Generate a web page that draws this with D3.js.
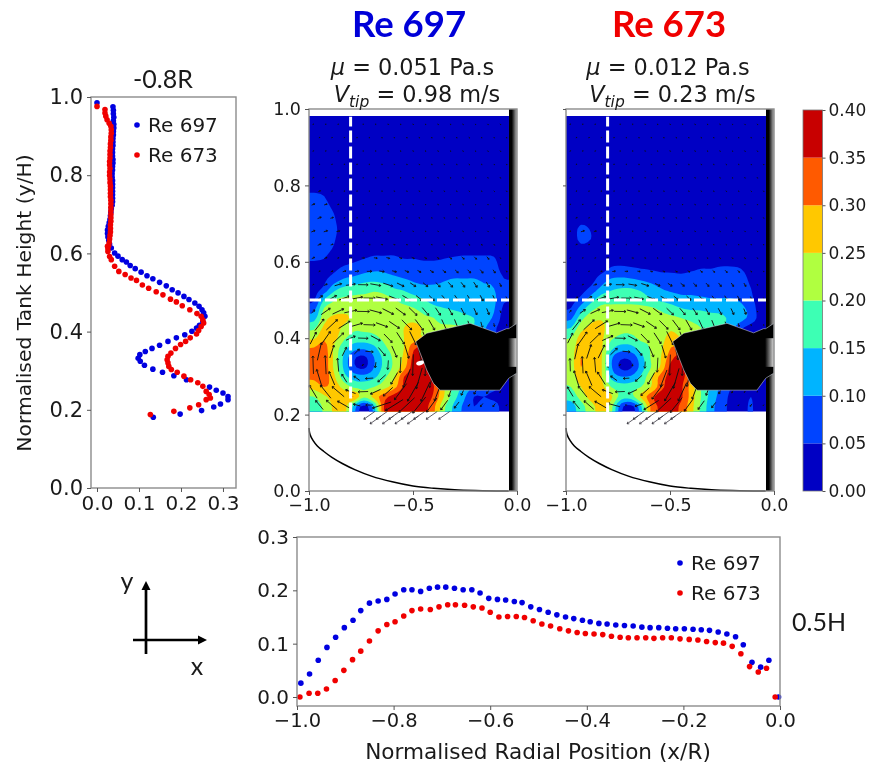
<!DOCTYPE html>
<html><head><meta charset="utf-8">
<script src="https://cdnjs.cloudflare.com/ajax/libs/d3/7.8.5/d3.min.js"></script>
<style>
html,body{margin:0;padding:0;background:#fff}
svg{display:block;filter:blur(0.45px)}
text{fill:#1a1a1a}
</style></head><body>
<svg id="c" width="869" height="766"></svg>
<script>
// ---------- data ----------
const legendLabels = ["Re 697","Re 673"];
const seriesColors = ["#0000e0","#f00000"];
const tankProfileRe697X = [0,.038,.039,.039,.040,.039,.040,.040,.039,.039,.038,.038,.038,.037,.037,.037,.038,.038,.037,.037,.036,.036,.037,.037,.037,.037,.037,.037,.037,.036,.034,.033,.032,.031,.029,.027,.025,.025,.026,.028,.030,.034,.042,.050,.060,.070,.079,.091,.105,.119,.133,.149,.165,.179,.193,.207,.219,.233,.243,.250,.254,.257,.252,.244,.237,.226,.209,.189,.169,.149,.131,.115,.102,.098,.103,.113,.133,.156,.183,.213,.268,.284,.300,.312,.312,.294,.278,.249,.198,.134];
const tankProfileRe697Y = [.985,.975,.966,.957,.948,.939,.930,.921,.912,.903,.894,.885,.876,.867,.858,.849,.840,.831,.822,.813,.804,.795,.786,.777,.768,.759,.750,.741,.732,.723,.714,.705,.696,.687,.678,.669,.660,.651,.642,.633,.624,.614,.601,.593,.584,.578,.569,.561,.552,.543,.535,.526,.517,.507,.499,.490,.482,.473,.465,.456,.448,.439,.426,.416,.409,.401,.392,.384,.375,.365,.357,.349,.341,.332,.324,.314,.304,.296,.287,.277,.258,.250,.243,.234,.226,.215,.207,.198,.189,.181];
const tankProfileRe673X = [0,.019,.019,.021,.024,.029,.033,.034,.034,.033,.033,.032,.032,.031,.031,.031,.030,.030,.031,.030,.030,.031,.031,.032,.032,.032,.032,.033,.033,.033,.033,.033,.033,.033,.032,.032,.032,.031,.030,.029,.028,.026,.025,.026,.030,.034,.042,.052,.067,.081,.094,.108,.123,.141,.157,.175,.189,.203,.221,.238,.248,.252,.254,.248,.242,.237,.222,.211,.199,.187,.176,.169,.167,.169,.171,.177,.191,.207,.223,.240,.252,.260,.267,.270,.260,.242,.221,.183,.127];
const tankProfileRe673Y = [.976,.968,.959,.951,.942,.933,.925,.916,.907,.898,.889,.880,.871,.862,.853,.844,.835,.826,.817,.808,.799,.790,.781,.772,.763,.754,.745,.736,.727,.718,.709,.700,.691,.682,.673,.664,.655,.646,.637,.628,.620,.612,.618,.605,.592,.584,.567,.554,.546,.537,.531,.519,.511,.502,.494,.483,.476,.466,.456,.446,.439,.430,.422,.413,.403,.394,.384,.375,.367,.357,.345,.337,.328,.320,.311,.303,.296,.286,.277,.269,.260,.247,.239,.230,.226,.213,.205,.196,.188];

const radialRe697X = [-.992,-.974,-.956,-.938,-.920,-.902,-.884,-.868,-.850,-.832,-.814,-.797,-.779,-.762,-.744,-.726,-.709,-.692,-.674,-.656,-.638,-.621,-.603,-.585,-.568,-.550,-.534,-.516,-.498,-.480,-.462,-.444,-.427,-.409,-.393,-.375,-.358,-.340,-.322,-.304,-.286,-.269,-.251,-.233,-.216,-.198,-.180,-.163,-.146,-.128,-.110,-.092,-.076,-.058,-.040,-.023,-.003];
const radialRe697Y = [.026,.043,.069,.093,.112,.130,.144,.162,.176,.180,.183,.193,.201,.201,.198,.204,.206,.206,.204,.201,.201,.195,.185,.183,.182,.179,.177,.169,.164,.159,.154,.150,.147,.144,.141,.138,.137,.135,.134,.133,.131,.130,.130,.129,.128,.128,.127,.126,.125,.122,.118,.113,.098,.065,.056,.069,0];
const radialRe673X = [-.994,-.975,-.957,-.939,-.921,-.903,-.885,-.868,-.850,-.832,-.814,-.797,-.779,-.762,-.744,-.724,-.706,-.688,-.672,-.653,-.635,-.617,-.600,-.582,-.564,-.546,-.529,-.511,-.493,-.475,-.456,-.438,-.420,-.403,-.385,-.367,-.349,-.331,-.314,-.296,-.278,-.261,-.243,-.225,-.207,-.188,-.170,-.152,-.134,-.117,-.099,-.081,-.063,-.045,-.028,-.010];
const radialRe673Y = [0,.007,.007,.015,.031,.050,.070,.086,.105,.124,.136,.141,.152,.162,.165,.164,.169,.173,.173,.172,.169,.167,.159,.150,.151,.151,.149,.143,.137,.133,.128,.124,.121,.119,.118,.117,.114,.112,.111,.111,.111,.110,.111,.111,.109,.108,.107,.104,.102,.101,.095,.081,.057,.047,.054,0];

const colorLevels = [0,.05,.10,.15,.20,.25,.30,.35,.40];
const levelColors = ["#0000c4","#0044ff","#00b4ff","#3dffb4","#b0ff40","#ffc800","#ff5a00","#c80000"];

// speed in hundredths of a unit; rows run from the bottom of the field upwards
const speedRe697 = [
[17,21,26,28,13,3,13,35,37,38,38,37,31,21,14,9,5,7,7,3],
[20,24,27,29,30,21,27,33,37,39,39,38,34,25,17,11,5,5,4,3],
[27,30,28,23,19,18,20,23,28,36,39,38,35,26,19,14,10,8,6,4],
[31,33,26,17,13,12,14,19,24,35,39,39,34,30,25,20,15,10,6,4],
[32,33,24,14,6,4,10,16.5,21,28,38,39,35,30,25,20,15,10,6,4],
[32,33,24,14,6,4,10,16.5,21,26,37,39,35,30,25,20,15,10,6,4],
[30,32,24,17,12.5,11.5,14,19,22,25,34,35,30,27,25,20,15,10,6,3],
[24,29,27,21,18,18,19,21,23,25,27,25,24,23,22,20,15,10,6,3],
[19,26,27,24,21,21,21,22,22,25,27,24,21,21,21,20,15,11,6,3],
[13,23,26,26,24,22,22,22,22,23,23,21,20,18,17,16,15,13,9,3],
[8,20,22,23,23,22.5,22,22,21,21,20,18,16,15,14.5,14,13,12,10.5,4],
[4,14,19,20.5,21,21,21,21,20,18,16.5,14.5,13,13,12.5,12,12,11.5,11,6],
[3,6,13,16,17,18,19,18,15,14,12,11,11,11,11.5,11,11,10.5,10,7],
[2.5,4,7,10,11,12.5,13,12,11,10,9,8.5,8.5,9.5,10,10,10,9.5,9,5],
[3,3,4,6,7,8,9,9,8,7.5,7,7,7,7,7.5,8,8,8,7,3],
[5.5,5,3,3,4,5,6,6,6,5,5,4.5,4.5,5,5.5,6,6,6,5.5,2],
[6,6.5,4.5,2,2,2,3,3,3,2.5,2.5,2,2,3,3,3,3,3,3,2],
[6.5,7,5.5,2,1,1,2,2,2,2,1,1,1,2,2,2,2,2,2,1],
[7,7,6,2.5,1,1,1,1,1,1,1,1,1,1,1,1,1,1,1,1],
[7,7,5.5,2,1,1,1,1,1,1,1,1,1,1,1,1,1,1,1,1],
[6.5,6.5,4.5,2,1,1,1,1,1,1,1,1,1,1,1,1,1,1,1,1],
[6,5.5,3,1,1,1,1,1,1,1,1,1,1,1,1,1,1,1,1,1],
[4.5,4,2,1,1,1,1,1,1,1,1,1,1,1,1,1,1,1,1,1],
[3,2,1,1,1,1,1,1,1,1,1,1,1,1,1,1,1,1,1,1],
[1,1,1,1,1,1,1,1,1,1,1,1,1,1,1,1,1,1,1,1],
[1,1,1,1,1,1,1,1,1,1,1,1,1,1,1,1,1,1,1,1],
[1,1,1,1,1,1,1,1,1,1,1,1,1,1,1,1,1,1,1,1],
[1,1,1,1,1,1,1,1,1,1,1,1,1,1,1,1,1,1,1,1],
[1,1,1,1,1,1,1,1,1,1,1,1,1,1,1,1,1,1,1,1],
[1,1,1,1,1,1,1,1,1,1,1,1,1,1,1,1,1,1,1,1]];
const speedRe673 = [
[13,18,23,27,22,7,3,14,31,36,37,34,27,19,12,7,4,3,5.5,2],
[17,22,27,29,26,18,18,26,33,38,38,36,28,20,13,8,4,3,5,2],
[20,25,28,27,20,17,17.5,20,25,33,38,36,28,20,14,9,5,3,3,2],
[22,28,28,26,14,10.5,11,16,24,32,37,37,30,22,15,10,6,3,3,2],
[23,30,27,26,11,4,4.5,12,20,26,37,38,30,22,15,10,6,3,2,2],
[23,30,26,26,11.5,6,6.5,13,20.5,25,33,37,30,22,15,10,6,3,2,2],
[23,28,26,26,17,13,13.5,17.5,20.5,24,30,30,26,22,15,10,6,3,2,2],
[20,27,26,26,21,19,19,21,21,23,27,25,22,20,15,10,6,3,2,2],
[15,23,26,26,23,21,21,21,22,22,24,22,21,20,18,15,12,6,3,2],
[9,18,23,24.5,23,22,22,22,21,21,21,20,19,18,17,16,14,12,8,3],
[5,12,18,21,21,21,21,21,20.5,19,17,15,14,14,13,13,12,11,8,2],
[3,6,12,17,18,18,18,17,15,13,12,11,11,10.5,10,10,10,9,6,2],
[2,3,6,11,14,15,15,14,12,10,9,8.5,8,8,8,8,7.5,7,5,2],
[2,2,3,7,10,10.5,10,9,8,7,6.5,6,6,6,6,6.5,6.5,6.5,4,2],
[1,1,2,3,5.5,6,5.5,5,4.5,4,4,4,4.5,5,5,5.5,5.5,5,3,1],
[1,1,1,2,3,3,3,2.5,2,2,2,2,2,2.5,2.5,3,3,3,2,1],
[1,3,2,1,1,1,1,1,1,1,1,1,1,1,1,1,1,1,1,1],
[1.5,6.5,5,1,1,1,1,1,1,1,1,1,1,1,1,1,1,1,1,1],
[1.5,6.5,4.5,1,1,1,1,1,1,1,1,1,1,1,1,1,1,1,1,1],
[1,3,2,1,1,1,1,1,1,1,1,1,1,1,1,1,1,1,1,1],
[1,1,1,1,1,1,1,1,1,1,1,1,1,1,1,1,1,1,1,1],
[1,1,1,1,1,1,1,1,1,1,1,1,1,1,1,1,1,1,1,1],
[1,1,1,1,1,1,1,1,1,1,1,1,1,1,1,1,1,1,1,1],
[1,1,1,1,1,1,1,1,1,1,1,1,1,1,1,1,1,1,1,1],
[1,1,1,1,1,1,1,1,1,1,1,1,1,1,1,1,1,1,1,1],
[1,1,1,1,1,1,1,1,1,1,1,1,1,1,1,1,1,1,1,1],
[1,1,1,1,1,1,1,1,1,1,1,1,1,1,1,1,1,1,1,1],
[1,1,1,1,1,1,1,1,1,1,1,1,1,1,1,1,1,1,1,1],
[1,1,1,1,1,1,1,1,1,1,1,1,1,1,1,1,1,1,1,1],
[1,1,1,1,1,1,1,1,1,1,1,1,1,1,1,1,1,1,1,1]];

// quiver sample positions and flow directions (degrees, counter-clockwise from +x)
const quiverX = [-.98,-.92,-.86,-.80,-.74,-.68,-.62,-.56,-.50,-.44,-.38,-.32,-.26,-.20,-.14,-.08];
const quiverY = [.225,.26,.295,.33,.365,.40,.435,.47,.505,.54,.575,.61];
const quiverUpperY = [.645,.68,.715,.75,.785,.82,.855,.89,.925,.96];
const quiverBelowY = [.198,.186];
const quiverBelowX = [[-.71,-.65,-.59,-.53,-.47,-.41,-.35],[-.68,-.62,-.56,-.50]];
const flowAngleBelow = [-145,-145];
const flowAngle = [
[130,139,150,165,-179,-162,-148,-137,-129,-126,-126,-128,-128,-128,-128,-128],
[121,129,140,159,-178,-155,-138,-127,-120,-115,-111,-110,-115,-120,-125,-125],
[107,113,122,144,-176,-138,-120,-111,-106,-103,-101,-100,-105,-110,-115,-120],
[92,93,95,100,-153,-98,-94,-93,-92,-92,-95,-100,-105,-110,-115,-120],
[77,72,64,44,-5,-50,-66,-73,-77,-80,-85,-90,-95,-100,-105,-110],
[63,55,44,24,-2,-28,-46,-57,-64,-68,-72,-76,-80,-85,-90,-95],
[52,43,32,16,-2,-20,-34,-45,-53,-60,-65,-68,-72,-75,-78,-80],
[43,35,25,12,-1,-15,-27,-36,-44,-50,-56,-60,-62,-65,-68,-70],
[37,29,20,10,-1,-12,-22,-31,-38,-44,-50,-55,-58,-62,-65,-68],
[32,25,17,8,-1,-10,-18,-26,-33,-39,-44,-48,-52,-56,-60,-65],
[28,21,15,7,0,-8,-15,-22,-28,-33,-38,-42,-46,-50,-55,-60],
[25,19,13,6,0,-7,-14,-20,-25,-30,-34,-38,-42,-46,-50,-55]];
const flowAngleUpper = [22,17,12,6,0,-6,-12,-18,-22,-26,-30,-34,-38,-42,-46,-50];

// impeller blade outline and tank floor, in axis units
const bladeX = [-.487,-.434,-.226,-.098,-.05,-.04,0,0,-.04,-.082,-.37,-.402,-.434];
const bladeY = [.391,.413,.439,.414,.425,.425,.439,.309,.295,.264,.264,.282,.317];
const floorX = [-1,-.995,-.98,-.96,-.93,-.89,-.84,-.78,-.7,-.6,-.5,-.4,-.3,-.2,-.1,-.04];
const floorY = [.165,.148,.132,.118,.104,.088,.072,.056,.039,.024,.013,.007,.003,.001,0,0];

const panelTitles = ["Re 697","Re 673"];
const panelMu = ["0.051","0.012"];
const panelTip = ["0.98","0.23"];
const xTicksField = [-1,-.5,0];
const yTicks = [0,.2,.4,.6,.8,1];
const xTicksProfile = [0,.1,.2,.3];
const xTicksRadial = [-1,-.8,-.6,-.4,-.2,0];
const yTicksRadial = [0,.1,.2,.3];

// ---------- helpers ----------
const svg = d3.select("#c");
const SANS = "'DejaVu Sans',sans-serif", HUM = "Lato,'Open Sans',sans-serif";
const defs = svg.append("defs");
const grad = defs.append("linearGradient").attr("id","shaft");
grad.append("stop").attr("offset","35%").attr("stop-color","#000");
grad.append("stop").attr("offset","100%").attr("stop-color","#b5b5b5");
const grad2 = defs.append("linearGradient").attr("id","hub");
grad2.append("stop").attr("offset","0%").attr("stop-color","#000");
grad2.append("stop").attr("offset","100%").attr("stop-color","#e0e0e0");

function frame(g,x,y){
  const [x0,x1]=x.range(),[y0,y1]=y.range();
  g.append("rect").attr("x",x0).attr("y",y1).attr("width",x1-x0).attr("height",y0-y1)
    .attr("fill","none").attr("stroke","#8c8c8c").attr("stroke-width",1.4);
}
function styleAxis(a,size){
  a.select(".domain").remove();
  a.selectAll("line").attr("stroke","#555").attr("stroke-width",1);
  a.selectAll("text").attr("font-family",SANS).attr("font-size",size).attr("fill","#1a1a1a");
}
function legend(g,x,ys,size){
  legendLabels.forEach((t,i)=>{
    g.append("circle").attr("cx",x).attr("cy",ys[i]).attr("r",2.8).attr("fill",seriesColors[i]);
    g.append("text").attr("x",x+11).attr("y",ys[i]+7).attr("font-family",SANS).attr("font-size",size).text(t);
  });
}
function dots(g,xs,ys,x,y,col){
  g.append("g").selectAll("circle").data(d3.zip(xs,ys)).join("circle")
    .attr("cx",d=>x(d[0])).attr("cy",d=>y(d[1])).attr("r",2.8).attr("fill",col);
}
// Catmull-Rom resampling of the read grid so the contour bands come out round
function resample(rows,k){
  const R=rows.length,C=rows[0].length,W=C*k,H=R*k,out=new Float64Array((W+2)*(H+2));
  const cr=(a,b,c,d,t)=>.5*(2*b+(c-a)*t+(2*a-5*b+4*c-d)*t*t+(3*b-a-3*c+d)*t*t*t);
  const at=(j,i)=>rows[Math.max(0,Math.min(R-1,j))][Math.max(0,Math.min(C-1,i))];
  for(let py=0;py<H+2;py++){
    const v=(Math.max(0,Math.min(H-1,py-1))+.5)/k-.5,j=Math.floor(v),ty=v-j;
    for(let px=0;px<W+2;px++){
      const u=(Math.max(0,Math.min(W-1,px-1))+.5)/k-.5,i=Math.floor(u),tx=u-i;
      const col=[-1,0,1,2].map(dj=>cr(at(j+dj,i-1),at(j+dj,i),at(j+dj,i+1),at(j+dj,i+2),tx));
      out[py*(W+2)+px]=Math.max(.1,cr(col[0],col[1],col[2],col[3],ty))/100;
    }
  }
  return {values:out,w:W+2,h:H+2};
}

// ---------- left profile ----------
{
  const g=svg.append("g");
  const x=d3.scaleLinear().domain([-.0143,.331]).range([91,236]);
  const y=d3.scaleLinear().domain([0,1]).range([488,97]);
  dots(g,tankProfileRe697X,tankProfileRe697Y,x,y,seriesColors[0]);
  dots(g,tankProfileRe673X,tankProfileRe673Y,x,y,seriesColors[1]);
  frame(g,x,y);
  g.append("g").attr("transform","translate(0,488)")
    .call(d3.axisBottom(x).tickValues(xTicksProfile).tickFormat(d3.format(".1f")).tickSize(4).tickPadding(4)).call(a=>styleAxis(a,20));
  g.append("g").attr("transform","translate(91,0)")
    .call(d3.axisLeft(y).tickValues(yTicks).tickFormat(d3.format(".1f")).tickSize(4).tickPadding(4)).call(a=>styleAxis(a,21));
  legend(g,137,[125,155],20);
  g.append("text").attr("transform","translate(31,303) rotate(-90)").attr("text-anchor","middle")
    .attr("font-family",SANS).attr("font-size",20.3).text("Normalised Tank Height (y/H)");
  g.append("text").attr("x",163).attr("y",88).attr("text-anchor","middle").attr("font-family",HUM).attr("font-size",25).text("-0.8R");
}

// ---------- field panels ----------
function panel(left,speed,idx,showY){
  const g=svg.append("g");
  const right=left+208;
  const x=d3.scaleLinear().domain([-1,0]).range([left,right]);
  const y=d3.scaleLinear().domain([0,1]).range([491,109]);
  const nC=speed[0].length,nR=speed.length,K=3;
  const gx=d3.scaleLinear().domain([0,nC]).range([-1,-.0385]);
  const gy=d3.scaleLinear().domain([0,nR]).range([.208,.982]);
  const fine=resample(speed,K);
  const fx=d3.scaleLinear().domain([1,nC*K+1]).range([-1,-.0385]);
  const fy=d3.scaleLinear().domain([1,nR*K+1]).range([.208,.982]);
  const contours=d3.contours().size([fine.w,fine.h]).smooth(true).thresholds(colorLevels.slice(0,-1))(fine.values);
  const proj=d3.geoTransform({point(a,b){this.stream.point(x(fx(a)),y(fy(b)));}});
  const path=d3.geoPath(proj);
  const color=d3.scaleThreshold().domain(colorLevels.slice(1,-1)).range(levelColors);
  const clipId="fieldClip"+idx;
  defs.append("clipPath").attr("id",clipId).append("rect")
    .attr("x",x(-1)).attr("y",y(.982)).attr("width",x(-.0385)-x(-1)).attr("height",y(.208)-y(.982));
  g.append("g").attr("clip-path",`url(#${clipId})`).selectAll("path").data(contours).join("path")
    .attr("d",path).attr("fill",d=>color(d.value+1e-6));

  // quiver
  const speedAt=(vx,vy)=>{
    const i=Math.max(0,Math.min(nC-1,Math.floor(gx.invert(vx))));
    const j=Math.max(0,Math.min(nR-1,Math.floor(gy.invert(vy))));
    return speed[j][i]/100;
  };
  const arrows=[];
  quiverY.forEach((vy,r)=>quiverX.forEach((vx,c)=>{
    const sx=vx+(r%2?0:.03);
    arrows.push({vx:sx,vy,a:flowAngle[r][c],s:speedAt(sx,vy)});
  }));
  quiverUpperY.forEach((vy,r)=>quiverX.forEach((vx,c)=>{
    const sx=vx+(r%2?0:.03);
    arrows.push({vx:sx,vy,a:flowAngleUpper[c],s:speedAt(sx,vy)});
  }));
  quiverBelowY.forEach((vy,r)=>quiverBelowX[r].forEach(vx=>{
    if(idx===1&&(vx>-.46||vx<-.69)) return;
    arrows.push({vx,vy,a:flowAngleBelow[r],s:.24,thin:true});
  }));
  const LEN=56;
  g.append("g").selectAll("path").data(arrows).join("path")
    .attr("transform",d=>`translate(${x(d.vx)},${y(d.vy)}) rotate(${-d.a})`)
    .attr("d",d=>{const L=Math.max(1.1,d.s*LEN)/2,h=Math.min(1.8,L*.7);
      return `M${-L},0L${L},0M${L-h},${-h*.7}L${L},0L${L-h},${h*.7}`;})
    .attr("fill","none").attr("stroke",d=>d.thin?"#33303a":"#101010").attr("stroke-width",d=>d.thin?.7:.85);

  // blade and shaft
  const poly=d3.line().x(d=>x(d[0])).y(d=>y(d[1])).curve(d3.curveLinearClosed);
  g.append("rect").attr("x",x(-.0385)).attr("y",109).attr("width",x(0)-x(-.0385)).attr("height",382).attr("fill","url(#shaft)");
  g.append("path").attr("d",poly(d3.zip(bladeX,bladeY))).attr("fill","#000").attr("stroke","#dfe6f5").attr("stroke-width",.5);
  g.append("rect").attr("x",x(-.043)).attr("y",y(.4)).attr("width",x(0)-x(-.043)).attr("height",y(.325)-y(.4)).attr("fill","url(#hub)");
  if(idx===0) g.append("ellipse").attr("cx",x(-.466)).attr("cy",y(.335)).attr("rx",4).attr("ry",2.2).attr("fill","#fff").attr("transform",`rotate(-15 ${x(-.466)} ${y(.335)})`);

  // floor
  g.append("path").attr("d",d3.line().x(d=>x(d[0])).y(d=>y(d[1])).curve(d3.curveCatmullRom)(d3.zip(floorX,floorY)))
    .attr("fill","none").attr("stroke","#000").attr("stroke-width",1.5);

  // dashed guides
  const w=3;
  g.append("line").attr("x1",x(-.8)).attr("x2",x(-.8)).attr("y1",y(.2)).attr("y2",y(.98))
    .attr("stroke","#fff").attr("stroke-width",w).attr("stroke-dasharray","12 4");
  g.append("line").attr("x1",x(-1)).attr("x2",x(-.0385)).attr("y1",y(.5)).attr("y2",y(.5))
    .attr("stroke","#fff").attr("stroke-width",w).attr("stroke-dasharray","12 4");

  frame(g,x,y);
  g.append("g").attr("transform","translate(0,491)")
    .call(d3.axisBottom(x).tickValues(xTicksField).tickFormat(d3.format(".1f")).tickSize(4).tickPadding(4)).call(a=>styleAxis(a,17.5));
  g.append("g").attr("transform",`translate(${left},0)`)
    .call(d3.axisLeft(y).tickValues(yTicks).tickFormat(showY?d3.format(".1f"):"").tickSize(showY?4:3).tickPadding(4)).call(a=>styleAxis(a,17.5));

  const shift=idx===0?0:-1.5;
  g.append("text").attr("x",left+100+(idx?3:0)).attr("y",37).attr("text-anchor","middle").attr("font-family",HUM).attr("font-weight",700).attr("font-size",36.5)
    .style("fill",idx===0?"#0000d8":"#f00000").text(panelTitles[idx]);
  const t1=g.append("text").attr("x",left+103.5+shift).attr("y",74.5).attr("text-anchor","middle").attr("font-family",SANS).attr("font-size",22.4);
  t1.append("tspan").attr("font-style","italic").text("μ");
  t1.append("tspan").text(" = "+panelMu[idx]+" Pa.s");
  const t2=g.append("text").attr("x",left+108+shift).attr("y",101.5).attr("text-anchor","middle").attr("font-family",SANS).attr("font-size",22.4);
  t2.append("tspan").attr("font-style","italic").text("V");
  t2.append("tspan").attr("font-style","italic").attr("font-size",15.5).attr("dy",5).text("tip");
  t2.append("tspan").attr("dy",-5).text(" = "+panelTip[idx]+" m/s");
}
panel(309,speedRe697,0,true);
panel(566,speedRe673,1,false);

// ---------- colour bar ----------
{
  const g=svg.append("g");
  const y=d3.scaleLinear().domain([0,.4]).range([491,110]);
  g.append("g").selectAll("rect").data(levelColors).join("rect")
    .attr("x",803).attr("width",19.5)
    .attr("y",(d,i)=>y(colorLevels[i+1])).attr("height",(d,i)=>y(colorLevels[i])-y(colorLevels[i+1]))
    .attr("fill",d=>d);
  g.append("rect").attr("x",803).attr("y",110).attr("width",19.5).attr("height",381).attr("fill","none").attr("stroke","#777").attr("stroke-width",.8);
  g.append("g").attr("transform","translate(822.5,0)")
    .call(d3.axisRight(y).tickValues(colorLevels).tickFormat(d3.format(".2f")).tickSize(3).tickPadding(3)).call(a=>styleAxis(a,17));
}

// ---------- radial profile ----------
{
  const g=svg.append("g");
  const x=d3.scaleLinear().domain([-1,0]).range([297,780]);
  const y=d3.scaleLinear().domain([0,.3]).range([697,537]);
  y.domain([y.invert(706),.3]).range([706,537]);
  dots(g,radialRe697X,radialRe697Y,x,y,seriesColors[0]);
  dots(g,radialRe673X,radialRe673Y,x,y,seriesColors[1]);
  frame(g,x,y);
  g.append("g").attr("transform","translate(0,706)")
    .call(d3.axisBottom(x).tickValues(xTicksRadial).tickFormat(d3.format(".1f")).tickSize(4).tickPadding(3)).call(a=>styleAxis(a,19.5));
  g.append("g").attr("transform","translate(297,0)")
    .call(d3.axisLeft(y).tickValues(yTicksRadial).tickFormat(d3.format(".1f")).tickSize(4).tickPadding(4)).call(a=>styleAxis(a,20));
  legend(g,680,[563,593],20);
  g.append("text").attr("x",538).attr("y",759).attr("text-anchor","middle").attr("font-family",SANS).attr("font-size",21.6).text("Normalised Radial Position (x/R)");
  g.append("text").attr("x",819).attr("y",631).attr("text-anchor","middle").attr("font-family",HUM).attr("font-size",25).text("0.5H");
}

// ---------- coordinate key ----------
{
  const g=svg.append("g");
  const head=(x,y,rot)=>g.append("path").attr("transform",`translate(${x},${y}) rotate(${rot})`).attr("d","M0,0L-9,-4.5L-9,4.5Z").attr("fill","#000");
  g.append("line").attr("x1",146).attr("x2",146).attr("y1",654).attr("y2",585).attr("stroke","#000").attr("stroke-width",2.7);
  g.append("line").attr("x1",133).attr("x2",202).attr("y1",640).attr("y2",640).attr("stroke","#000").attr("stroke-width",2.7);
  head(146,581,-90); head(207,640,0);
  g.append("text").attr("x",127).attr("y",590).attr("text-anchor","middle").attr("font-family",HUM).attr("font-size",25).text("y");
  g.append("text").attr("x",197).attr("y",675).attr("text-anchor","middle").attr("font-family",HUM).attr("font-size",25).text("x");
}
</script>
</body></html>
